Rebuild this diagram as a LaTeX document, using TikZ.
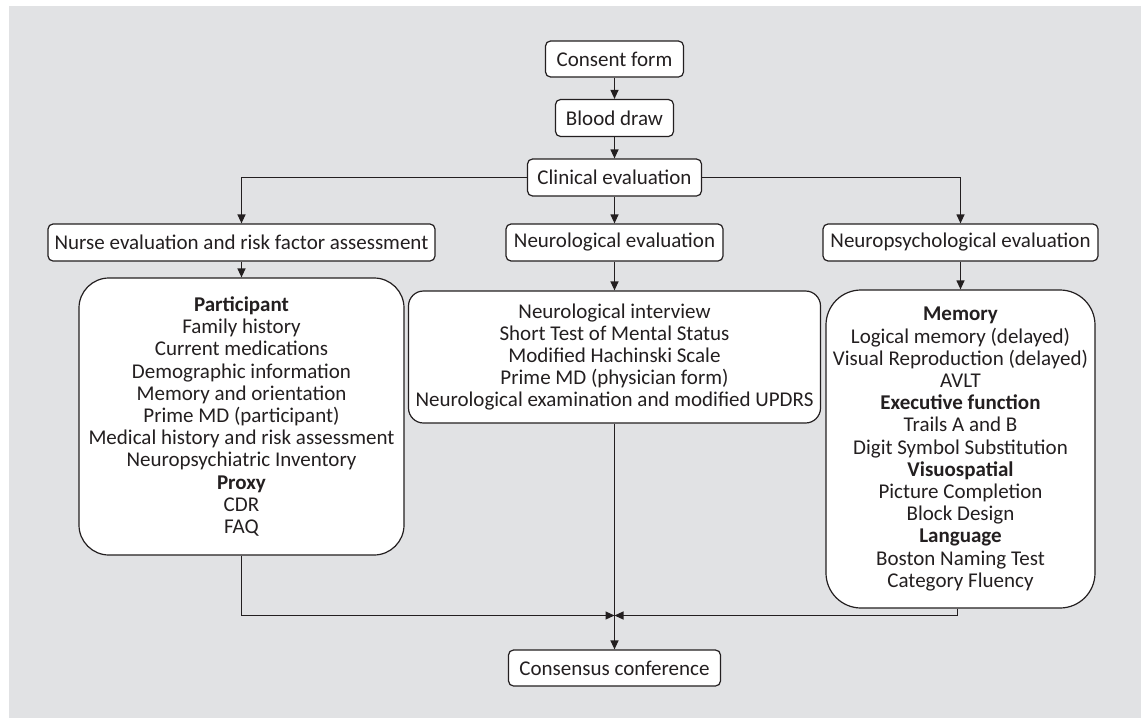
\documentclass[tikz,border=0pt]{standalone}
\usepackage{fontspec}
\setmainfont{Carlito}
\usetikzlibrary{arrows.meta}
\definecolor{bgray}{HTML}{E1E2E4}
\definecolor{ink}{HTML}{231F20}
\tikzset{
  box/.style={draw=ink, fill=white, line width=1.2pt, rounded corners=5pt, inner sep=0pt,
    font=\fontsize{21}{22.2}\selectfont, text=ink, align=center},
  arr/.style={draw=ink, line width=1.2pt, -{Triangle[length=9pt,width=8pt]}},
}
\begin{document}
\begin{tikzpicture}[x=1pt,y=-1pt]
\useasboundingbox (0,0) rectangle (1141,718);
\fill[bgray] (9,6) rectangle (1141,718);

\node[box, minimum width=138pt, minimum height=36pt] (consent) at (614.5,59) {Consent form};
\node[box, minimum width=118pt, minimum height=37pt] (blood) at (614.5,118) {Blood draw};
\node[box, minimum width=174pt, minimum height=37pt] (clin) at (614.5,177.5) {Clinical evaluation};
\node[box, minimum width=387pt, minimum height=37pt] (nurse) at (241.5,242.5) {Nurse evaluation and risk factor assessment};
\node[box, minimum width=217pt, minimum height=37pt] (neuro) at (614.5,242.5) {Neurological evaluation};
\node[box, minimum width=275pt, minimum height=37pt] (npsy) at (960.5,242.5) {Neuropsychological evaluation};

\node[box, rounded corners=30pt, minimum width=325pt, minimum height=277pt] (left) at (241.5,416.5)
  {\textbf{Participant}\\Family history\\Current medications\\Demographic information\\Memory and orientation\\Prime MD (participant)\\Medical history and risk assessment\\Neuropsychiatric Inventory\\\textbf{Proxy}\\CDR\\FAQ};
\node[box, rounded corners=15pt, minimum width=412pt, minimum height=132pt] (mid) at (614.5,357)
  {Neurological interview\\Short Test of Mental Status\\Modified Hachinski Scale\\Prime MD (physician form)\\Neurological examination and modified UPDRS};
\node[box, rounded corners=35pt, minimum width=269pt, minimum height=318pt] (right) at (960.5,449)
  {\textbf{Memory}\\Logical memory (delayed)\\Visual Reproduction (delayed)\\AVLT\\\textbf{Executive function}\\Trails A and B\\Digit Symbol Substitution\\\textbf{Visuospatial}\\Picture Completion\\Block Design\\\textbf{Language}\\Boston Naming Test\\Category Fluency};

\node[box, minimum width=212pt, minimum height=36pt] (cons) at (614.5,668) {Consensus conference};

\coordinate (junc) at (614.5,615.5);

\draw[arr] (consent) -- (blood);
\draw[arr] (blood) -- (clin);
\draw[arr] (clin.west) -| (nurse.north);
\draw[arr] (clin.east) -| (npsy.north);
\draw[arr] (clin) -- (neuro);
\draw[arr] (nurse) -- (left);
\draw[arr] (neuro) -- (mid);
\draw[arr] (npsy) -- (right);
\draw[arr] (mid) -- (cons);
\draw[arr] (left.south) |- (junc);
\draw[arr] ([xshift=-3pt]right.south) |- (junc);
\end{tikzpicture}
\end{document}
